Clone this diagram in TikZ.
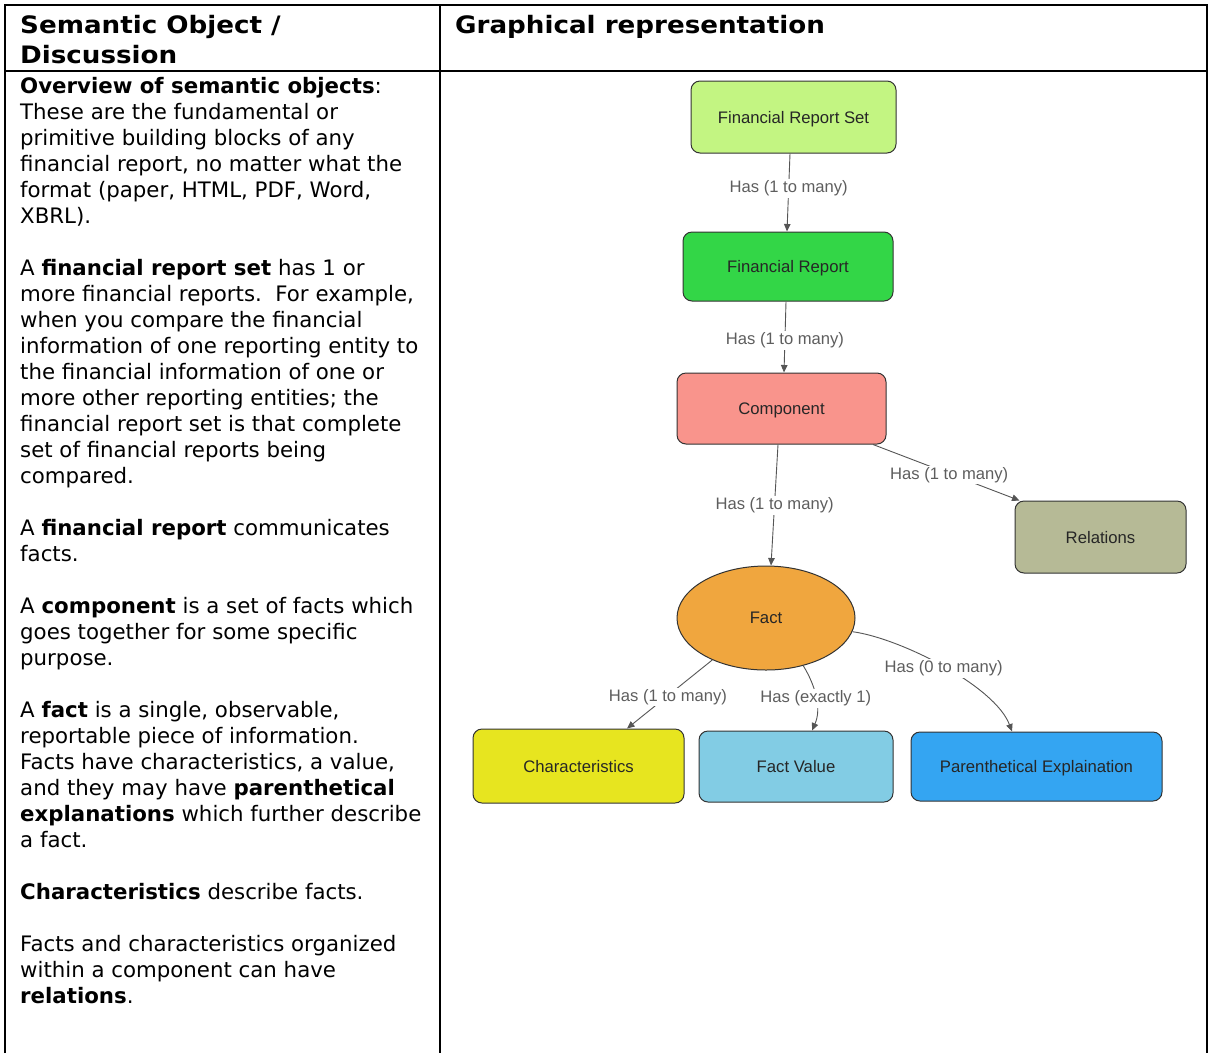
\documentclass[tikz,border=0pt]{standalone}
\usepackage{fontspec}
\setmainfont{DejaVu Sans}
\newfontfamily\arialfont{Liberation Sans}
\newfontfamily\headfont[FakeStretch=1.09]{DejaVu Sans}
\usetikzlibrary{shapes.geometric,arrows.meta}
\definecolor{cFRS}{HTML}{C3F582}
\definecolor{cFR}{HTML}{33D647}
\definecolor{cComp}{HTML}{F9948C}
\definecolor{cRel}{HTML}{B6BA96}
\definecolor{cFact}{HTML}{F0A63E}
\definecolor{cChar}{HTML}{E7E51F}
\definecolor{cFV}{HTML}{82CCE4}
\definecolor{cPE}{HTML}{34A5F2}
\definecolor{cBorder}{HTML}{333333}
\definecolor{cEdge}{HTML}{555555}
\definecolor{cLbl}{HTML}{5E5E5E}
\tikzset{
  grid line/.style={line width=1.8pt,black},
  body/.style={anchor=base west,inner sep=0pt,font=\fontsize{21.3}{26}\selectfont},
  headtxt/.style={anchor=base west,inner sep=0pt,font=\headfont\bfseries\fontsize{24}{30}\selectfont},
  box/.style={draw=cBorder,line width=1pt,rounded corners=9pt,inner sep=0pt,text depth=0pt,
    font=\arialfont\fontsize{16.7}{18}\selectfont,text=black!85},
  oval/.style={ellipse,draw=cBorder,line width=1pt,inner sep=0pt,text depth=0pt,
    font=\arialfont\fontsize{16.7}{18}\selectfont,text=black!85},
  conn/.style={draw=cEdge,line width=0.9pt,-{Triangle[length=7.5pt,width=6.5pt]}},
  lbl/.style={fill=white,inner sep=1.5pt,yshift=-1.5pt,text=cLbl,font=\arialfont\fontsize{16.6}{18}\selectfont}
}
\begin{document}
\begin{tikzpicture}[x=1pt,y=-1pt]
\useasboundingbox[fill=white] (0,0) rectangle (1209,1053);
% table
\draw[grid line] (5,1053) -- (5,5) -- (1207,5) -- (1207,1053);
\draw[grid line] (5,71) -- (1207,71);
\draw[grid line] (440,5) -- (440,1053);
% headers
\node[headtxt] (h1) at (20,33) {Semantic Object /};
\node[headtxt] (h2) at (20,63.3) {Discussion};
\node[headtxt] (h3) at (455,33) {Graphical representation};
% body text
\foreach \k/\t in {
 0/{\textbf{Overview of semantic objects}:},
 1/{These are the fundamental or},
 2/{primitive building blocks of any},
 3/{financial report, no matter what the},
 4/{format (paper, HTML, PDF, Word,},
 5/{XBRL).},
 7/{A \textbf{financial report set} has 1 or},
 8/{more financial reports.\ \ For example,},
 9/{when you compare the financial},
 10/{information of one reporting entity to},
 11/{the financial information of one or},
 12/{more other reporting entities; the},
 13/{financial report set is that complete},
 14/{set of financial reports being},
 15/{compared.},
 17/{A \textbf{financial report} communicates},
 18/{facts.},
 20/{A \textbf{component} is a set of facts which},
 21/{goes together for some specific},
 22/{purpose.},
 24/{A \textbf{fact} is a single, observable,},
 25/{reportable piece of information.},
 26/{Facts have characteristics, a value,},
 27/{and they may have \textbf{parenthetical}},
 28/{\textbf{explanations} which further describe},
 29/{a fact.},
 31/{\textbf{Characteristics} describe facts.},
 33/{Facts and characteristics organized},
 34/{within a component can have},
 35/{\textbf{relations}.}}
 \node[body] (line\k) at (20,93.5+26*\k) {\t};
% diagram nodes
\node[box,fill=cFRS,minimum width=205pt,minimum height=72pt] (frs) at (793.5,117) {Financial Report Set};
\node[box,fill=cFR,minimum width=210pt,minimum height=69pt] (fr) at (788,266.5) {Financial Report};
\node[box,fill=cComp,minimum width=209pt,minimum height=71pt] (comp) at (781.5,408.5) {Component};
\node[box,fill=cRel,minimum width=171pt,minimum height=72pt] (rel) at (1100.5,537) {Relations};
\node[oval,fill=cFact,minimum width=178pt,minimum height=104pt] (fact) at (766,618) {Fact};
\node[box,fill=cChar,minimum width=211pt,minimum height=74pt] (char) at (578.5,766) {Characteristics};
\node[box,fill=cFV,minimum width=194pt,minimum height=71pt] (fv) at (796,766.5) {Fact Value};
\node[box,fill=cPE,minimum width=251pt,minimum height=69pt] (pe) at (1036.5,766.5) {Parenthetical Explaination};
% connectors
\draw[conn] ([xshift=-3.5pt]frs.south) -- node[lbl,pos=0.43] {Has (1 to many)} ([xshift=-1pt]fr.north);
\draw[conn] ([xshift=-2pt]fr.south) -- node[lbl,pos=0.53] {Has (1 to many)} ([xshift=2.5pt]comp.north);
\draw[conn] ([xshift=-3.5pt]comp.south) -- node[lbl,pos=0.49] {Has (1 to many)} ([xshift=5pt]fact.north);
\draw[conn] ([xshift=91.5pt]comp.south) -- node[lbl,pos=0.52] {Has (1 to many)} ([xshift=5pt]rel.north west);
\draw[conn] (fact.218) -- node[lbl,pos=0.52] {Has (1 to many)} ([xshift=48.5pt]char.north);
\draw[conn] (fact.-52) .. controls (815,685) and (822,708) .. node[lbl,pos=0.5] {Has (exactly 1)} ([xshift=16pt]fv.north);
\draw[conn] (fact.-9) .. controls (900,638) and (995,686) .. node[lbl,pos=0.5] {Has (0 to many)} ([xshift=-24.5pt]pe.north);
\end{tikzpicture}
\end{document}
